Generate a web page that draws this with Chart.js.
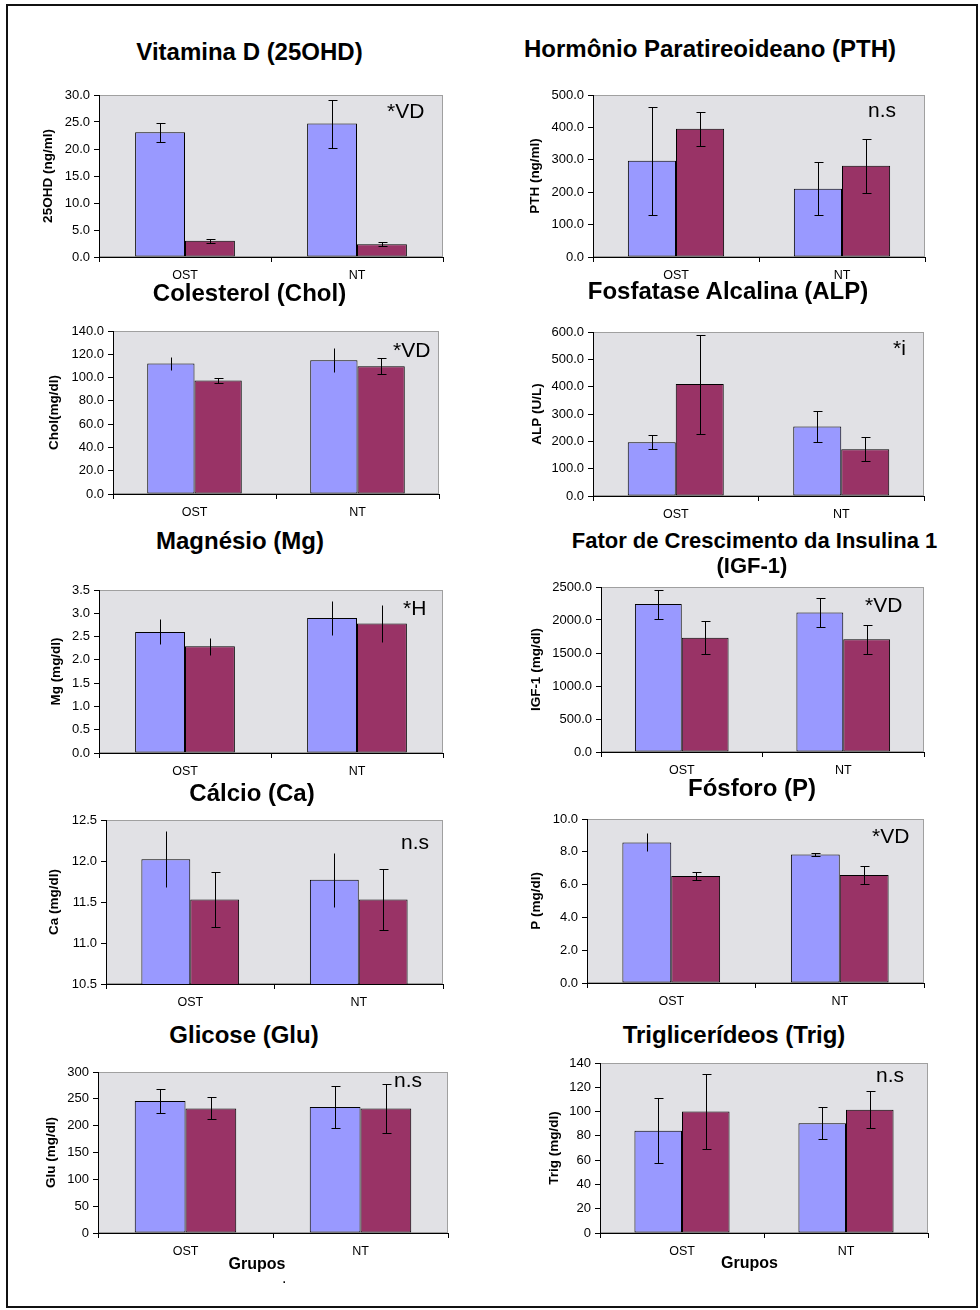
<!DOCTYPE html>
<html>
<head>
<meta charset="utf-8">
<script src="https://cdn.jsdelivr.net/npm/chart.js@4.4.1/dist/chart.umd.min.js"></script>
<style>
  body { margin: 0; background: #fff; width: 980px; height: 1310px; position: relative; overflow: hidden;
         font-family: 'Liberation Sans', Arial, sans-serif; }
  #frame { position: absolute; left: 6px; top: 4px; width: 968px; height: 1300px; border: 2px solid #111; }
  canvas { position: absolute; }
  .t { position: absolute; width: 600px; font-weight: bold; text-align: center; white-space: nowrap; line-height: 1; color: #000; }
  .a { position: absolute; white-space: nowrap; line-height: 1; color: #000; }
</style>
</head>
<body>
<div id="frame"></div>
<script>
const groups = ['OST', 'NT'];

// means and SD: first array = blue group, second = maroon group
const vitDBlue = [23.1, 24.7];   const vitDBlueSd = [1.75, 4.45];
const vitDRed = [3.0, 2.35];     const vitDRedSd = [0.4, 0.37];

const pthBlue = [297, 211];      const pthBlueSd = [167, 81];
const pthRed = [396, 282];       const pthRedSd = [52, 83];

const cholBlue = [112, 114.9];   const cholBlueSd = [5.3, 10.4];
const cholRed = [97.4, 109.7];   const cholRedSd = [2.1, 7.0];

const alpBlue = [197, 254];      const alpBlueSd = [24.5, 56];
const alpRed = [409.5, 171];     const alpRedSd = [181, 44.5];

const mgBlue = [2.6, 2.9];       const mgBlueSd = [0.27, 0.365];
const mgRed = [2.29, 2.78];      const mgRedSd = [0.18, 0.395];

const igfBlue = [2242, 2115];    const igfBlueSd = [220, 220];
const igfRed = [1731, 1710];     const igfRedSd = [250, 220];

const caBlue = [12.02, 11.77];   const caBlueSd = [0.34, 0.33];
const caRed = [11.53, 11.53];    const caRedSd = [0.34, 0.375];

const pBlue = [8.57, 7.84];      const pBlueSd = [0.55, 0.07];
const pRed = [6.52, 6.58];       const pRedSd = [0.26, 0.56];

const gluBlue = [246, 235];      const gluBlueSd = [23, 39];
const gluRed = [232, 232];       const gluRedSd = [20.5, 45];

const trigBlue = [84.3, 90.4];   const trigBlueSd = [27, 13];
const trigRed = [100, 101.4];    const trigRedSd = [31, 15.3];

// y axis ranges
const vitDTicks = [0, 30, 5];
const pthTicks = [0, 500, 100];
const cholTicks = [0, 140, 20];
const alpTicks = [0, 600, 100];
const mgTicks = [0, 3.5, 0.5];
const igfTicks = [0, 2500, 500];
const caTicks = [10.5, 12.5, 0.5];
const pTicks = [0, 10, 2];
const gluTicks = [0, 300, 50];
const trigTicks = [0, 140, 20];

const BLUE = '#9999FF';
const MAROON = '#993366';
const FONT = "'Liberation Sans', Arial, sans-serif";

// layout of each panel: plot box [left, top, right, bottom], y title centre x, titles, notes
const panels = [
  { title: ['Vitamina D (25OHD)'], tpos: [[249.5, 52]], tsize: 24, yTitle: '25OHD (ng/ml)', ytx: 48,
    box: [99, 95, 443, 257], ticks: vitDTicks, dec: 1, note: '*VD', npos: [387, 110],
    blue: vitDBlue, blueSd: vitDBlueSd, red: vitDRed, redSd: vitDRedSd, caps: [[1, 1], [1, 1]] },
  { title: ['Hormônio Paratireoideano (PTH)'], tpos: [[710, 49]], tsize: 24, yTitle: 'PTH (ng/ml)', ytx: 535,
    box: [593, 95, 925, 257], ticks: pthTicks, dec: 1, note: 'n.s', npos: [868, 111],
    blue: pthBlue, blueSd: pthBlueSd, red: pthRed, redSd: pthRedSd, caps: [[1, 1], [1, 1]] },
  { title: ['Colesterol (Chol)'], tpos: [[249.5, 293]], tsize: 24, yTitle: 'Chol(mg/dl)', ytx: 54,
    box: [113, 331, 439, 494], ticks: cholTicks, dec: 1, note: '*VD', npos: [393, 349],
    blue: cholBlue, blueSd: cholBlueSd, red: cholRed, redSd: cholRedSd, caps: [[0, 0], [1, 1]] },
  { title: ['Fosfatase Alcalina (ALP)'], tpos: [[728, 291]], tsize: 24, yTitle: 'ALP (U/L)', ytx: 537,
    box: [593, 332, 924, 496], ticks: alpTicks, dec: 1, note: '*i', npos: [893, 347],
    blue: alpBlue, blueSd: alpBlueSd, red: alpRed, redSd: alpRedSd, caps: [[1, 1], [1, 1]] },
  { title: ['Magnésio (Mg)'], tpos: [[240, 541]], tsize: 24, yTitle: 'Mg (mg/dl)', ytx: 56,
    box: [99, 590, 443, 753], ticks: mgTicks, dec: 1, note: '*H', npos: [403, 607],
    blue: mgBlue, blueSd: mgBlueSd, red: mgRed, redSd: mgRedSd, caps: [[0, 0], [0, 0]] },
  { title: ['Fator de Crescimento da Insulina 1', '(IGF-1)'], tpos: [[754.5, 541], [752, 566]], tsize: 22,
    yTitle: 'IGF-1 (mg/dl)', ytx: 536,
    box: [601, 587, 924, 752], ticks: igfTicks, dec: 1, note: '*VD', npos: [865, 604],
    blue: igfBlue, blueSd: igfBlueSd, red: igfRed, redSd: igfRedSd, caps: [[1, 1], [1, 1]] },
  { title: ['Cálcio (Ca)'], tpos: [[252, 793]], tsize: 24, yTitle: 'Ca (mg/dl)', ytx: 54,
    box: [106, 820, 443, 984], ticks: caTicks, dec: 1, note: 'n.s', npos: [401, 843],
    blue: caBlue, blueSd: caBlueSd, red: caRed, redSd: caRedSd, caps: [[0, 0], [1, 1]] },
  { title: ['Fósforo (P)'], tpos: [[752, 788]], tsize: 24, yTitle: 'P (mg/dl)', ytx: 536,
    box: [587, 819, 924, 983], ticks: pTicks, dec: 1, note: '*VD', npos: [872, 835],
    blue: pBlue, blueSd: pBlueSd, red: pRed, redSd: pRedSd, caps: [[0, 1], [1, 1]] },
  { title: ['Glicose (Glu)'], tpos: [[244, 1035]], tsize: 24, yTitle: 'Glu (mg/dl)', ytx: 51,
    box: [98, 1072, 448, 1233], ticks: gluTicks, dec: 0, note: 'n.s', npos: [394, 1081],
    xTitle: [257, 1263.5],
    blue: gluBlue, blueSd: gluBlueSd, red: gluRed, redSd: gluRedSd, caps: [[1, 1], [1, 1]] },
  { title: ['Triglicerídeos (Trig)'], tpos: [[734, 1035]], tsize: 24, yTitle: 'Trig (mg/dl)', ytx: 554,
    box: [600, 1063, 928, 1233], ticks: trigTicks, dec: 0, note: 'n.s', npos: [876, 1076],
    xTitle: [749.5, 1262.5],
    blue: trigBlue, blueSd: trigBlueSd, red: trigRed, redSd: trigRedSd, caps: [[1, 1], [1, 1]] }
];

const TOP_PAD = 12;
const RIGHT_PAD = 4;
const X_H = 30;
const YT_SIZE = 13.5;

function addText(cls, txt, size, left, top) {
  const d = document.createElement('div');
  d.className = cls;
  d.textContent = txt;
  d.style.fontSize = size + 'px';
  d.style.left = left + 'px';
  d.style.top = top + 'px';
  document.body.appendChild(d);
  return d;
}

// light grey plot background and grey frame
const plotBg = {
  id: 'plotBg',
  beforeDraw(chart) {
    const { ctx, chartArea: a } = chart;
    ctx.save();
    ctx.fillStyle = '#e1e1e5';
    ctx.fillRect(a.left, a.top, a.right - a.left, a.bottom - a.top);
    ctx.strokeStyle = '#a0a0a0';
    ctx.lineWidth = 1;
    ctx.strokeRect(a.left + 0.5, a.top + 0.5, a.right - a.left - 1, a.bottom - a.top - 1);
    ctx.restore();
  }
};

// error bars from the mean/sd arrays, positioned by the chart's own scales
const errorBars = {
  id: 'errorBars',
  afterDatasetsDraw(chart, args, opts) {
    const { ctx } = chart;
    const y = chart.scales.y;
    ctx.save();
    ctx.strokeStyle = '#000';
    ctx.lineWidth = 1;
    chart.data.datasets.forEach((ds, i) => {
      const meta = chart.getDatasetMeta(i);
      meta.data.forEach((bar, j) => {
        const x = Math.round(bar.x) + 0.5;
        const hi = Math.round(y.getPixelForValue(ds.data[j] + ds.sd[j])) + 0.5;
        const lo = Math.round(y.getPixelForValue(ds.data[j] - ds.sd[j])) + 0.5;
        ctx.beginPath();
        ctx.moveTo(x, hi);
        ctx.lineTo(x, lo);
        if (opts.caps[i][j]) {
          ctx.moveTo(x - 4, hi); ctx.lineTo(x + 5, hi);
          ctx.moveTo(x - 4, lo); ctx.lineTo(x + 5, lo);
        }
        ctx.stroke();
      });
    });
    ctx.restore();
  }
};

panels.forEach((p) => {
  const [L, T, R, B] = p.box;
  const lh = YT_SIZE * 1.2;
  const cLeft = Math.floor(p.ytx - lh / 2);
  const cTop = T - TOP_PAD;
  const cw = R - cLeft + RIGHT_PAD;
  const ch = B - T + TOP_PAD + X_H;

  const canvas = document.createElement('canvas');
  canvas.width = cw;
  canvas.height = ch;
  canvas.style.left = cLeft + 'px';
  canvas.style.top = cTop + 'px';
  document.body.appendChild(canvas);

  new Chart(canvas, {
    type: 'bar',
    data: {
      labels: groups,
      datasets: [
        { data: p.blue, sd: p.blueSd, backgroundColor: BLUE, borderColor: '#000', borderWidth: 1, borderSkipped: false },
        { data: p.red, sd: p.redSd, backgroundColor: MAROON, borderColor: '#000', borderWidth: 1, borderSkipped: false }
      ]
    },
    options: {
      responsive: false,
      animation: false,
      devicePixelRatio: 1,
      layout: { padding: { top: TOP_PAD, right: RIGHT_PAD, left: 0, bottom: 0 } },
      datasets: { bar: { categoryPercentage: 0.58, barPercentage: 1 } },
      plugins: {
        legend: { display: false },
        tooltip: { enabled: false },
        errorBars: { caps: p.caps }
      },
      scales: {
        x: {
          grid: { drawOnChartArea: false, drawTicks: true, tickLength: 5, color: '#000' },
          border: { display: true, color: '#000', width: 1 },
          ticks: { color: '#000', padding: 6, font: { family: FONT, size: 12.5 } },
          afterFit: (s) => { s.height = X_H; }
        },
        y: {
          min: p.ticks[0],
          max: p.ticks[1],
          ticks: {
            stepSize: p.ticks[2],
            color: '#000',
            padding: 4,
            font: { family: FONT, size: 13 },
            callback: (v) => Number(v).toFixed(p.dec)
          },
          grid: { drawOnChartArea: false, drawTicks: true, tickLength: 5, color: '#000' },
          border: { display: true, color: '#000', width: 1 },
          title: {
            display: true,
            text: p.yTitle,
            color: '#000',
            font: { family: FONT, size: YT_SIZE, weight: 'bold' },
            padding: { top: p.ytx - lh / 2 - cLeft, bottom: 0 }
          },
          afterFit: (s) => { s.width = L - cLeft; }
        }
      }
    },
    plugins: [plotBg, errorBars]
  });

  p.title.forEach((line, k) => {
    const [cx, cy] = p.tpos[k];
    addText('t', line, p.tsize, cx - 300, cy - 0.4885 * p.tsize);
  });

  const ns = 21;
  const k = p.note.startsWith('*') ? 0.49 : 0.59;
  addText('a', p.note, ns, p.npos[0], p.npos[1] - k * ns);

  if (p.xTitle) {
    addText('t', 'Grupos', 16, p.xTitle[0] - 300, p.xTitle[1] - 0.4885 * 16);
  }
});

addText('a', '.', 16, 282, 1270);
</script>
</body>
</html>
